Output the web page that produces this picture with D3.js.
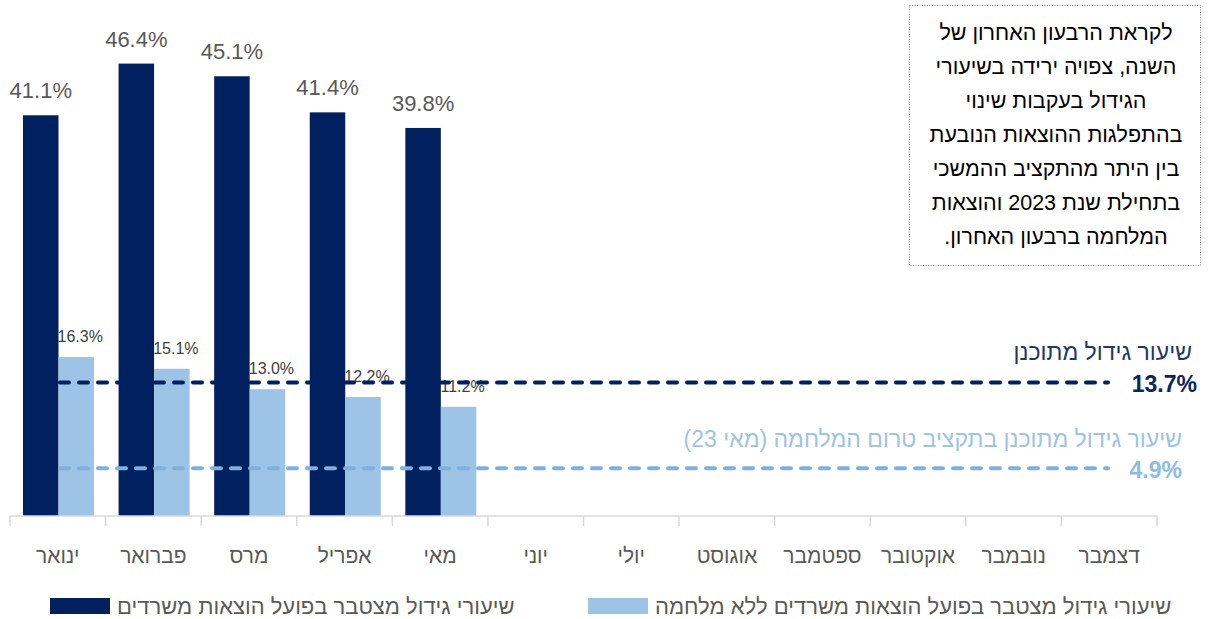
<!DOCTYPE html>
<html>
<head>
<meta charset="utf-8">
<script src="https://cdn.jsdelivr.net/npm/d3@7"></script>
<style>
  body { margin: 0; background: #fff; }
  text { font-family: "Liberation Sans", "DejaVu Sans", sans-serif; }
</style>
</head>
<body>
<div id="viz"></div>
<script>
var months = ["ינואר", "פברואר", "מרס", "אפריל", "מאי", "יוני", "יולי", "אוגוסט", "ספטמבר", "אוקטובר", "נובמבר", "דצמבר"];
var actual = [41.1, 46.4, 45.1, 41.4, 39.8];
var noWar = [16.3, 15.1, 13.0, 12.2, 11.2];
var planned = 13.7;
var plannedPreWar = 4.9;
var seriesNames = ["שיעורי גידול מצטבר בפועל הוצאות משרדים", "שיעורי גידול מצטבר בפועל הוצאות משרדים ללא מלחמה"];
var noteLines = ["לקראת הרבעון האחרון של", "השנה, צפויה ירידה בשיעורי", "הגידול בעקבות שינוי", "בהתפלגות ההוצאות הנובעת", "בין היתר מהתקציב ההמשכי", "בתחילת שנת 2023 והוצאות", "המלחמה ברבעון האחרון."];

var _dark = "#002060";
var _light = "#9dc3e6";
var _lightLine = "#7fb0e0";

var svg = d3.select("#viz")
    .append("svg")
    .attr("width", 1208)
    .attr("height", 619);

var x = d3.scaleBand().domain(months).range([10, 1157]);
var x1 = d3.scaleBand().domain([0, 1]).range([13, 84]);
var y = d3.scaleLinear().domain([0, 10]).range([516, 418.5]);

var data = actual.map(function(v, i){ return {m: months[i], a: v, b: noWar[i]}; });

// bars
var g = svg.selectAll("g.month")
    .data(data)
    .enter()
    .append("g")
    .attr("class", "month")
    .attr("transform", function(d){ return "translate(" + x(d.m) + ",0)"; });

g.append("rect")
    .attr("x", x1(0))
    .attr("width", x1.bandwidth())
    .attr("y", function(d){ return y(d.a); })
    .attr("height", function(d){ return y(0) - y(d.a); })
    .style("fill", _dark);

g.append("rect")
    .attr("x", x1(1))
    .attr("width", x1.bandwidth())
    .attr("y", function(d){ return y(d.b); })
    .attr("height", function(d){ return y(0) - y(d.b); })
    .style("fill", _light);

g.append("text")
    .attr("text-anchor", "middle")
    .attr("x", x1(0) + x1.bandwidth() / 2)
    .attr("y", function(d){ return y(d.a) - 17; })
    .style("font-size", "22px")
    .style("fill", "#595959")
    .text(function(d){ return d.a.toFixed(1) + "%"; });

g.append("text")
    .attr("text-anchor", "middle")
    .attr("x", x1(1) + x1.bandwidth() / 2 + 4)
    .attr("y", function(d){ return y(d.b) - 15; })
    .style("font-size", "16px")
    .style("fill", "#404040")
    .text(function(d){ return d.b.toFixed(1) + "%"; });

// axis
var axis = svg.append("g").attr("transform", "translate(0," + y(0) + ")");
axis.append("line").attr("x1", 10).attr("x2", 1157).style("stroke", "#d9d9d9").style("stroke-width", 1.5);
axis.selectAll("line.tick")
    .data(months.concat(["end"]))
    .enter()
    .append("line")
    .attr("class", "tick")
    .attr("x1", function(d){ return d == "end" ? 1157 : x(d); })
    .attr("x2", function(d){ return d == "end" ? 1157 : x(d); })
    .attr("y1", 0).attr("y2", 10)
    .style("stroke", "#d9d9d9").style("stroke-width", 1.5);
axis.selectAll("text")
    .data(months)
    .enter()
    .append("text")
    .attr("text-anchor", "middle")
    .attr("x", function(d){ return x(d) + x.bandwidth() / 2; })
    .attr("y", 47)
    .style("font-size", "21px")
    .style("fill", "#595959")
    .text(function(d){ return d; });

// reference lines
svg.append("line")
    .attr("x1", 60).attr("x2", 1108)
    .attr("y1", y(planned)).attr("y2", y(planned))
    .style("stroke", _dark).style("stroke-width", 4)
    .style("stroke-dasharray", "9,10").style("stroke-linecap", "round");
svg.append("line")
    .attr("x1", 60).attr("x2", 1108)
    .attr("y1", y(plannedPreWar)).attr("y2", y(plannedPreWar))
    .style("stroke", _lightLine).style("stroke-width", 4)
    .style("stroke-dasharray", "9,10").style("stroke-linecap", "round");

svg.append("text")
    .attr("direction", "rtl").attr("text-anchor", "start")
    .attr("x", 1192).attr("y", y(planned) - 22)
    .style("font-size", "23px").style("fill", "#1f3864")
    .text("שיעור גידול מתוכנן");
svg.append("text")
    .attr("text-anchor", "end")
    .attr("x", 1197).attr("y", y(planned) + 10)
    .style("font-size", "23px").style("font-weight", "bold").style("fill", "#0c2461")
    .text(planned.toFixed(1) + "%");
svg.append("text")
    .attr("direction", "rtl").attr("text-anchor", "start")
    .attr("x", 1182).attr("y", y(plannedPreWar) - 21)
    .style("font-size", "23px").style("fill", _light)
    .text("שיעור גידול מתוכנן בתקציב טרום המלחמה (מאי 23)");
svg.append("text")
    .attr("text-anchor", "end")
    .attr("x", 1182).attr("y", y(plannedPreWar) + 10)
    .style("font-size", "23px").style("font-weight", "bold").style("fill", "#8dbbe6")
    .text(plannedPreWar.toFixed(1) + "%");

// note box
svg.append("rect")
    .attr("x", 909.5).attr("y", 5.5).attr("width", 291).attr("height", 260)
    .style("fill", "#fff").style("stroke", "#8c8c8c").style("stroke-dasharray", "1,1.5");
svg.selectAll("text.note")
    .data(noteLines)
    .enter()
    .append("text")
    .attr("class", "note")
    .attr("direction", "rtl")
    .attr("text-anchor", "middle")
    .attr("x", 1056)
    .attr("y", function(d, i){ return 40 + i * 34; })
    .style("font-size", "21.5px")
    .style("fill", "#000")
    .text(function(d){ return d; });

// legend
var legend = [{x: 50, c: _dark, t: seriesNames[0]}, {x: 588, c: _light, t: seriesNames[1]}];
var lg = svg.selectAll("g.legend").data(legend).enter().append("g").attr("class", "legend");
lg.append("rect")
    .attr("x", function(d){ return d.x; }).attr("y", 598)
    .attr("width", 60).attr("height", 16)
    .style("fill", function(d){ return d.c; });
lg.append("text")
    .attr("direction", "rtl").attr("text-anchor", "end")
    .attr("x", function(d){ return d.x + 67; }).attr("y", 614)
    .style("font-size", "22px").style("fill", "#595959")
    .text(function(d){ return d.t; });
</script>
</body>
</html>
